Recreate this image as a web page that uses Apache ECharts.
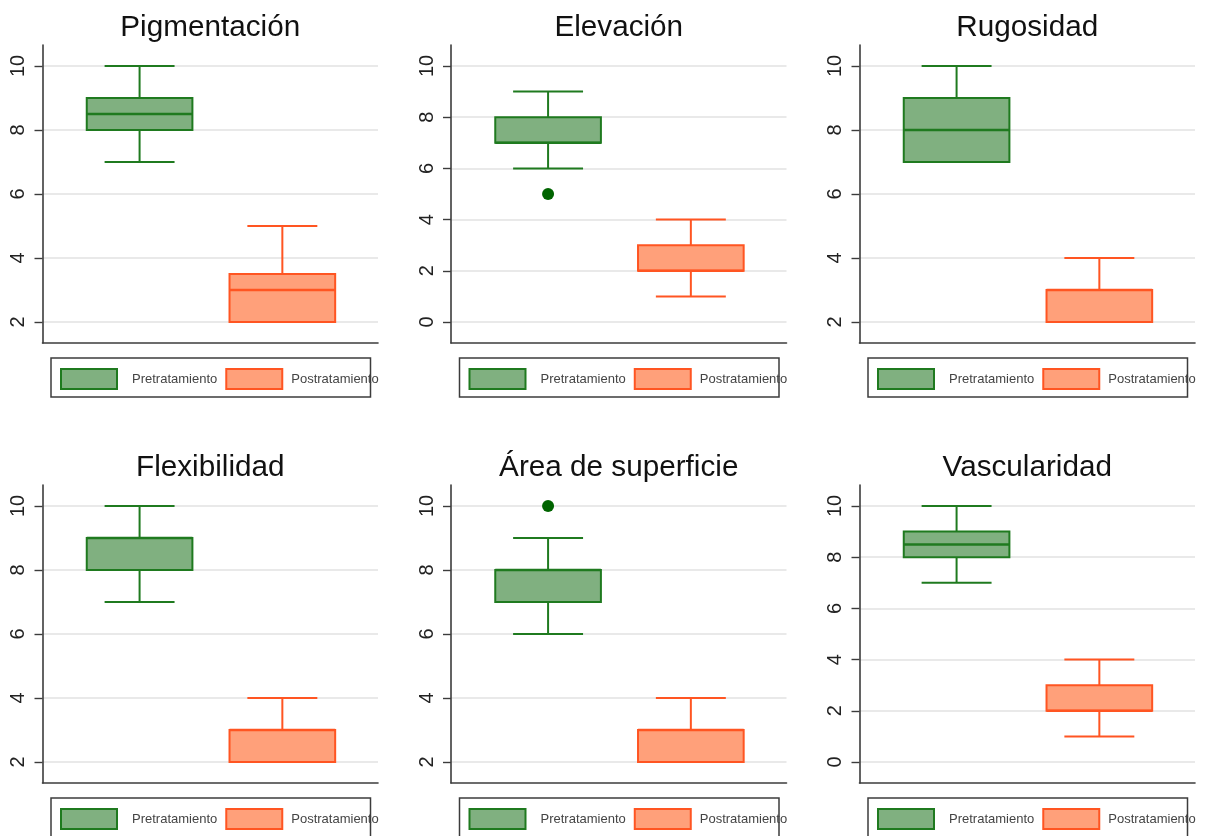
<!DOCTYPE html>
<html>
<head>
<meta charset="utf-8">
<title>Boxplots pre/postratamiento</title>
<script src="https://cdn.jsdelivr.net/npm/echarts@6/dist/echarts.min.js"></script>
<style>
  html, body { margin: 0; padding: 0; background: #ffffff; }
  #chart { width: 1206px; height: 836px; }
</style>
</head>
<body>
<div id="chart"></div>
<script>
// Groups compared in every panel
const groups = ['Pretratamiento', 'Postratamiento'];

// Panel titles (scale items)
const titles = ['Pigmentación', 'Elevación', 'Rugosidad', 'Flexibilidad', 'Área de superficie', 'Vascularidad'];

// Five-number summaries per panel: [min, Q1, median, Q3, max]
const preStats = [
  [7, 8, 8.5, 9, 10],
  [6, 7, 7, 8, 9],
  [7, 7, 8, 9, 10],
  [7, 8, 9, 9, 10],
  [6, 7, 8, 8, 9],
  [7, 8, 8.5, 9, 10]
];
const postStats = [
  [2, 2, 3, 3.5, 5],
  [1, 2, 2, 3, 4],
  [2, 2, 3, 3, 4],
  [2, 2, 3, 3, 4],
  [2, 2, 3, 3, 4],
  [1, 2, 2, 3, 4]
];

// Outlying values of the Pretratamiento group per panel
const preOutliers = [[], [5], [], [], [10], []];

// Y tick labels per panel
const yTicks = [
  [2, 4, 6, 8, 10],
  [0, 2, 4, 6, 8, 10],
  [2, 4, 6, 8, 10],
  [2, 4, 6, 8, 10],
  [2, 4, 6, 8, 10],
  [0, 2, 4, 6, 8, 10]
];

// ---- styling / layout ----
const FONT = "'Liberation Sans', Arial, Helvetica, sans-serif";
const colors = {
  pre:  { fill: '#80b080', stroke: '#1f7a1f' },
  post: { fill: '#ffa07a', stroke: '#ff5522' }
};
const OUTLIER_COLOR = '#006400';
const AXIS_COLOR = '#3c3c3c';
const GRID_COLOR = '#e2e2e2';

const colLeft = [42.5, 451, 859.5];
const rowTop = [45, 485];
const GRID_W = 335.5;
const GRID_H = 298;
const X_MIN = 0.32, X_MAX = 2.67;   // group positions are 1 and 2
const BOX_W = 0.74;                  // box width in x units
const CAP_W = 0.49;                  // whisker cap width in x units
const Y_PAD = 0.082;                 // fraction of tick span added above/below

function boxRenderer(stroke, fill) {
  return function (params, api) {
    const x = api.value(0);
    const lo = api.coord([x, api.value(1)]);
    const q1 = api.coord([x, api.value(2)]);
    const md = api.coord([x, api.value(3)]);
    const q3 = api.coord([x, api.value(4)]);
    const hi = api.coord([x, api.value(5)]);
    const bw = api.size([BOX_W, 0])[0];
    const cw = api.size([CAP_W, 0])[0];
    const cx = q1[0];
    const ls = { stroke: stroke, lineWidth: 2 };
    return {
      type: 'group',
      children: [
        { type: 'line', shape: { x1: cx, y1: hi[1], x2: cx, y2: q3[1] }, style: ls },
        { type: 'line', shape: { x1: cx, y1: q1[1], x2: cx, y2: lo[1] }, style: ls },
        { type: 'line', shape: { x1: cx - cw / 2, y1: hi[1], x2: cx + cw / 2, y2: hi[1] }, style: ls },
        { type: 'line', shape: { x1: cx - cw / 2, y1: lo[1], x2: cx + cw / 2, y2: lo[1] }, style: ls },
        { type: 'rect', shape: { x: cx - bw / 2, y: q3[1], width: bw, height: q1[1] - q3[1] },
          style: { fill: fill, stroke: stroke, lineWidth: 2 } },
        { type: 'line', shape: { x1: cx - bw / 2, y1: md[1], x2: cx + bw / 2, y2: md[1] },
          style: { stroke: stroke, lineWidth: 2.5 } }
      ]
    };
  };
}

const grids = [], xAxes = [], yAxes = [], series = [], titleList = [], legends = [], graphics = [];

titles.forEach(function (name, i) {
  const col = i % 3, row = Math.floor(i / 3);
  const left = colLeft[col], top = rowTop[row];
  grids.push({ left: left, top: top, width: GRID_W, height: GRID_H, containLabel: false });

  xAxes.push({
    gridIndex: i, type: 'value', min: X_MIN, max: X_MAX,
    axisLine: { show: true, onZero: false, lineStyle: { color: AXIS_COLOR, width: 1.6 } },
    axisTick: { show: false }, axisLabel: { show: false }, splitLine: { show: false }
  });

  const ticks = yTicks[i];
  const span = ticks[ticks.length - 1] - ticks[0];
  yAxes.push({
    gridIndex: i, type: 'value',
    min: ticks[0] - span * Y_PAD, max: ticks[ticks.length - 1] + span * Y_PAD,
    axisLine: { show: true, onZero: false, lineStyle: { color: AXIS_COLOR, width: 1.6 } },
    axisTick: { show: true, length: 8, customValues: ticks, lineStyle: { color: AXIS_COLOR, width: 1.4 } },
    axisLabel: { customValues: ticks, rotate: 90, margin: 14, fontSize: 20, color: '#222', fontFamily: FONT },
    splitLine: { show: true, lineStyle: { color: GRID_COLOR, width: 1.6 } }
  });

  series.push({
    name: groups[0], type: 'custom', xAxisIndex: i, yAxisIndex: i,
    renderItem: boxRenderer(colors.pre.stroke, colors.pre.fill),
    encode: { x: 0, y: [1, 2, 3, 4, 5] },
    itemStyle: { color: colors.pre.fill },
    data: [[1].concat(preStats[i])], z: 3
  });
  series.push({
    name: groups[1], type: 'custom', xAxisIndex: i, yAxisIndex: i,
    renderItem: boxRenderer(colors.post.stroke, colors.post.fill),
    encode: { x: 0, y: [1, 2, 3, 4, 5] },
    itemStyle: { color: colors.post.fill },
    data: [[2].concat(postStats[i])], z: 3
  });
  if (preOutliers[i].length) {
    series.push({
      name: groups[0], type: 'scatter', xAxisIndex: i, yAxisIndex: i,
      symbol: 'circle', symbolSize: 12,
      itemStyle: { color: OUTLIER_COLOR, opacity: 1 },
      data: preOutliers[i].map(function (v) { return [1, v]; }), z: 4
    });
  }

  titleList.push({
    text: name, left: left + GRID_W / 2, top: top - 32, textAlign: 'center', padding: 0,
    textStyle: { fontSize: 29.7, fontWeight: 'normal', color: '#111', fontFamily: FONT }
  });

  legends.push({
    left: left + 17.5, top: top + 323, orient: 'horizontal', padding: 0,
    itemWidth: 56, itemHeight: 20, itemGap: 8, selectedMode: false,
    textStyle: { fontSize: 13, color: '#444', fontFamily: FONT },
    data: [
      { name: groups[0], icon: 'rect',
        itemStyle: { color: colors.pre.fill, borderColor: colors.pre.stroke, borderWidth: 2 },
        textStyle: { padding: [0, 0, 0, 10] } },
      { name: groups[1], icon: 'rect',
        itemStyle: { color: colors.post.fill, borderColor: colors.post.stroke, borderWidth: 2 },
        textStyle: { padding: [0, 0, 0, 4] } }
    ]
  });

  graphics.push({
    type: 'rect', silent: true,
    shape: { x: left + 8.5, y: top + 313, width: 319.5, height: 39 },
    style: { fill: 'none', stroke: AXIS_COLOR, lineWidth: 1.5 }
  });
});

const chart = echarts.init(document.getElementById('chart'), null, { renderer: 'canvas' });
chart.setOption({
  animation: false,
  backgroundColor: '#ffffff',
  title: titleList,
  legend: legends,
  grid: grids,
  xAxis: xAxes,
  yAxis: yAxes,
  series: series,
  graphic: graphics
});
</script>
</body>
</html>
